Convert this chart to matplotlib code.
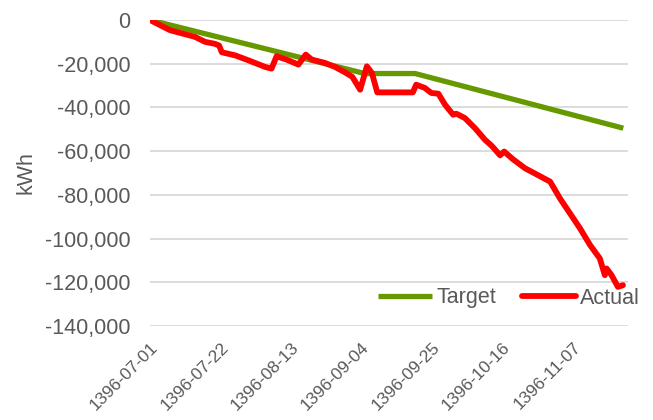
import matplotlib
matplotlib.use("Agg")
import matplotlib.pyplot as plt
from matplotlib.ticker import FuncFormatter

# day index from 1396-07-01
tick_days = [0, 21, 42, 63, 84, 105, 126]
tick_labels = ["1396-07-01", "1396-07-22", "1396-08-13", "1396-09-04",
               "1396-09-25", "1396-10-16", "1396-11-07"]

target_days = [0, 64, 79, 141]
target_kwh = [0, -24500, -24500, -49500]

actual_days = [0, 6.0, 8.9, 13.4, 16.4, 19.4, 20.6, 21.4, 25.3, 29.3, 34.3, 36.2,
               37.7, 40.7, 44.2, 46.4, 48.2, 52.1, 55.1, 58.1, 60.3, 62.6, 64.6,
               66.1, 67.7, 78.3, 79.3, 81.9, 83.8, 85.9, 87.9, 90.3, 91.3, 93.8,
               96.8, 99.8, 101.8, 104.3, 105.5, 108.1, 111.7, 119.2, 122.1, 125.1,
               128.1, 131.1, 134.0, 135.5, 136.0, 137.5, 139.4, 140.9]
actual_kwh = [0, -4680, -5870, -7710, -10000, -10920, -11700, -14770, -16150,
              -18440, -21470, -22250, -16600, -18120, -20410, -15830, -18120,
              -19630, -21470, -23940, -26050, -31880, -21190, -24220, -33120,
              -33120, -29590, -31100, -33390, -33710, -38760, -43350, -42890,
              -44860, -49450, -54810, -57570, -61920, -60180, -63670, -67800,
              -73940, -81560, -88440, -95320, -102980, -109080, -116740, -113670,
              -116740, -122110, -121330]

plt.rcParams['font.family'] = ['Liberation Sans', 'DejaVu Sans']
txt = '#595959'

fig = plt.figure(figsize=(6.53, 4.2), dpi=100)
ax = fig.add_axes([150 / 653, 1 - 326 / 420, 478 / 653, 306 / 420])

ax.plot(target_days, target_kwh, color='#669900', lw=3.8, label='Target',
        solid_capstyle='butt', solid_joinstyle='round')
ax.plot(actual_days, actual_kwh, color='#FF0000', lw=4.2, label='Actual',
        solid_capstyle='round', solid_joinstyle='round')

ax.set_xlim(0, 142.4)
ax.set_ylim(-140000, 0)
ax.set_yticks(range(-140000, 1, 20000))
ax.yaxis.set_major_formatter(FuncFormatter(lambda v, p: f"{int(v):,}"))
ax.set_xticks(tick_days)
ax.set_xticklabels(tick_labels, rotation=45, ha='right', va='top',
                   rotation_mode='anchor')

ax.grid(axis='y', color='#D9D9D9', lw=1.3)
ax.set_axisbelow(True)
for s in ax.spines.values():
    s.set_visible(False)
ax.tick_params(axis='y', length=0, pad=14, labelsize=15.5, labelcolor=txt)
ax.tick_params(axis='x', length=0, pad=10, labelsize=12.5, labelcolor=txt)
ax.set_ylabel('kWh', fontsize=15.5, color=txt, labelpad=6)

fig.legend(loc='center', bbox_to_anchor=(509 / 653, 1 - 298 / 420), ncol=2,
           frameon=False, fontsize=15.5, labelcolor=txt, handlelength=2.5,
           columnspacing=1.2, handletextpad=0.2)

fig.savefig('out.png', dpi=100)
